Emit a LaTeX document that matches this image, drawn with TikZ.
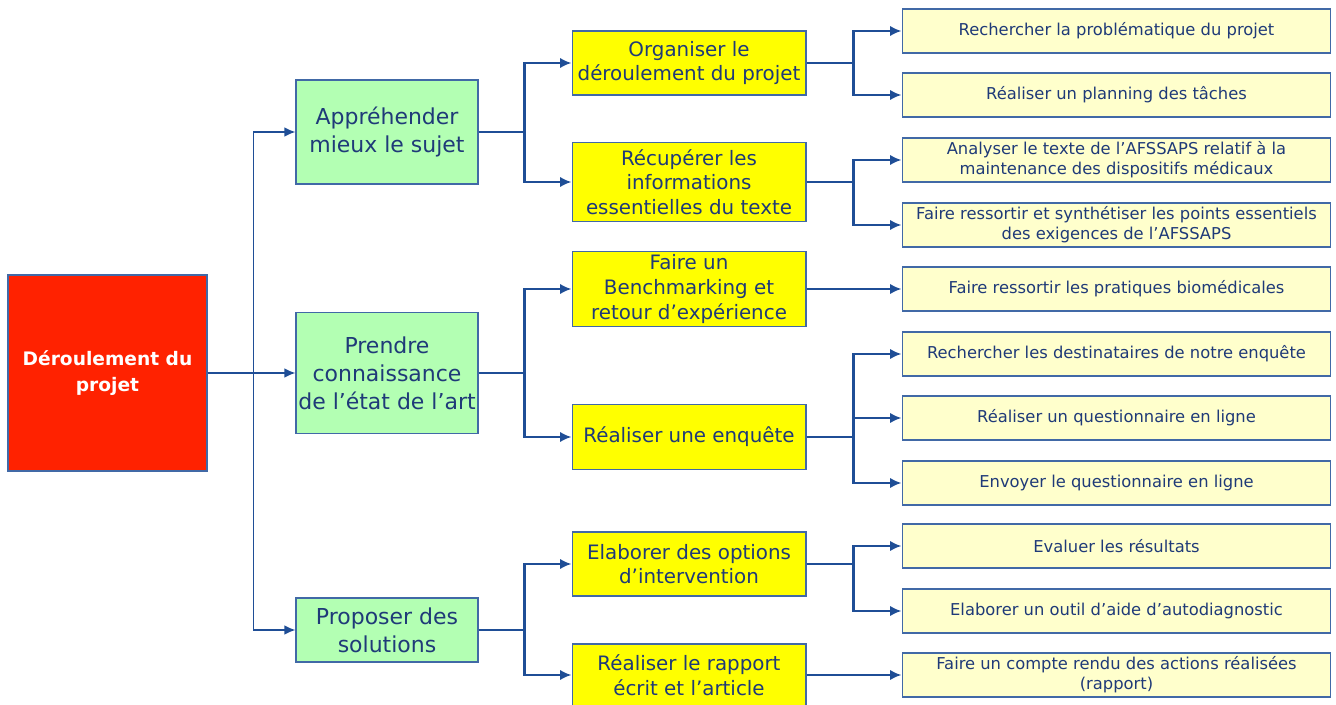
\documentclass[tikz,border=0pt]{standalone}
\usepackage{fontspec}
\setmainfont{DejaVu Sans}
\usetikzlibrary{arrows.meta,positioning}
\definecolor{PlanRed}{HTML}{FF2200}
\definecolor{PlanGreen}{HTML}{B3FFB3}
\definecolor{PlanYellow}{HTML}{FFFF00}
\definecolor{PlanCream}{HTML}{FFFFCC}
\definecolor{PlanBlue}{HTML}{1F4E96}
\definecolor{PlanText}{HTML}{1F3A78}

\begin{document}
\begin{tikzpicture}[
    x=0.02cm, y=-0.02cm,
    box/.style={draw=PlanBlue!85, line width=0.6pt, align=center, inner sep=0pt, text=PlanText},
    root/.style={box, fill=PlanRed, minimum width=3.98cm, minimum height=3.92cm, text=white, font=\fontsize{10.6}{14.5}\selectfont\bfseries},
    goal/.style={box, fill=PlanGreen, minimum width=3.64cm, font=\fontsize{12.5}{16}\selectfont},
    task/.style={box, fill=PlanYellow, minimum width=4.68cm, font=\fontsize{11.3}{14}\selectfont},
    action/.style={box, fill=PlanCream, minimum width=8.58cm, minimum height=0.88cm, font=\fontsize{9.3}{11.3}\selectfont},
    link/.style={PlanBlue, line width=0.8pt, -{Latex[length=2.2mm,width=1.9mm]}},
    fork/.style={PlanBlue, line width=1.4pt, -{Latex[length=2.3mm,width=2.1mm]}},
  ]
    \useasboundingbox (0,0) rectangle (1336,705);

    % ---- racine ----
    \node[root] (root) at (107.5,373) {Déroulement du\\projet};

    % ---- objectifs ----
    \node[goal, minimum height=2.08cm] (know) at (387,132) {Appréhender\\mieux le sujet};
    \node[goal, minimum height=2.42cm] (art)  at (387,373) {Prendre\\connaissance\\de l’état de l’art};
    \node[goal, minimum height=1.28cm] (sol)  at (387,630) {Proposer des\\solutions};

    % ---- taches ----
    \node[task, minimum height=1.28cm] (orga)  at (689,63)  {Organiser le\\déroulement du projet};
    \node[task, minimum height=1.58cm] (info)  at (689,182) {Récupérer les\\informations\\essentielles du texte};
    \node[task, minimum height=1.50cm] (bench) at (689,289) {Faire un\\Benchmarking et\\retour d’expérience};
    \node[task, minimum height=1.30cm] (poll)  at (689,437) {Réaliser une enquête};
    \node[task, minimum height=1.28cm] (opt)   at (689,564) {Elaborer des options\\d’intervention};
    \node[task, minimum height=1.24cm] (rep)   at (689,675) {Réaliser le rapport\\écrit et l’article};

    % ---- actions ----
    \node[action] (issue)  at (1116.5,31)  {Rechercher la problématique du projet};
    \node[action] (plan)   at (1116.5,95)  {Réaliser un planning  des tâches};
    \node[action] (afs)    at (1116.5,160) {Analyser le texte de l’AFSSAPS relatif à la\\maintenance des dispositifs  médicaux};
    \node[action] (synth)  at (1116.5,225) {Faire ressortir et synthétiser les points essentiels\\des exigences de l’AFSSAPS};
    \node[action] (biomed) at (1116.5,289) {Faire ressortir les pratiques biomédicales};
    \node[action] (target) at (1116.5,354) {Rechercher les destinataires de notre enquête};
    \node[action] (quest)  at (1116.5,418) {Réaliser un questionnaire en ligne};
    \node[action] (send)   at (1116.5,483) {Envoyer le questionnaire en ligne};
    \node[action] (eval)   at (1116.5,546) {Evaluer les résultats};
    \node[action] (tool)   at (1116.5,611) {Elaborer un outil d’aide d’autodiagnostic};
    \node[action] (report) at (1116.5,675) {Faire un compte rendu des actions réalisées\\(rapport)};

    % ---- fleches ----
    \foreach \g in {know,art,sol}
      \draw[link] (root.east) -- ++(46,0) |- (\g.west);
    \foreach \g/\t in {know/orga,know/info,art/bench,art/poll,sol/opt,sol/rep}
      \draw[fork] (\g.east) -- ++(46,0) |- (\t.west);
    \foreach \t/\a in {orga/issue,orga/plan,info/afs,info/synth,poll/target,poll/quest,poll/send,opt/eval,opt/tool}
      \draw[fork] (\t.east) -- ++(47,0) |- (\a.west);
    \draw[fork] (bench) -- (biomed);
    \draw[fork] (rep) -- (report);
  \end{tikzpicture}
\end{document}
